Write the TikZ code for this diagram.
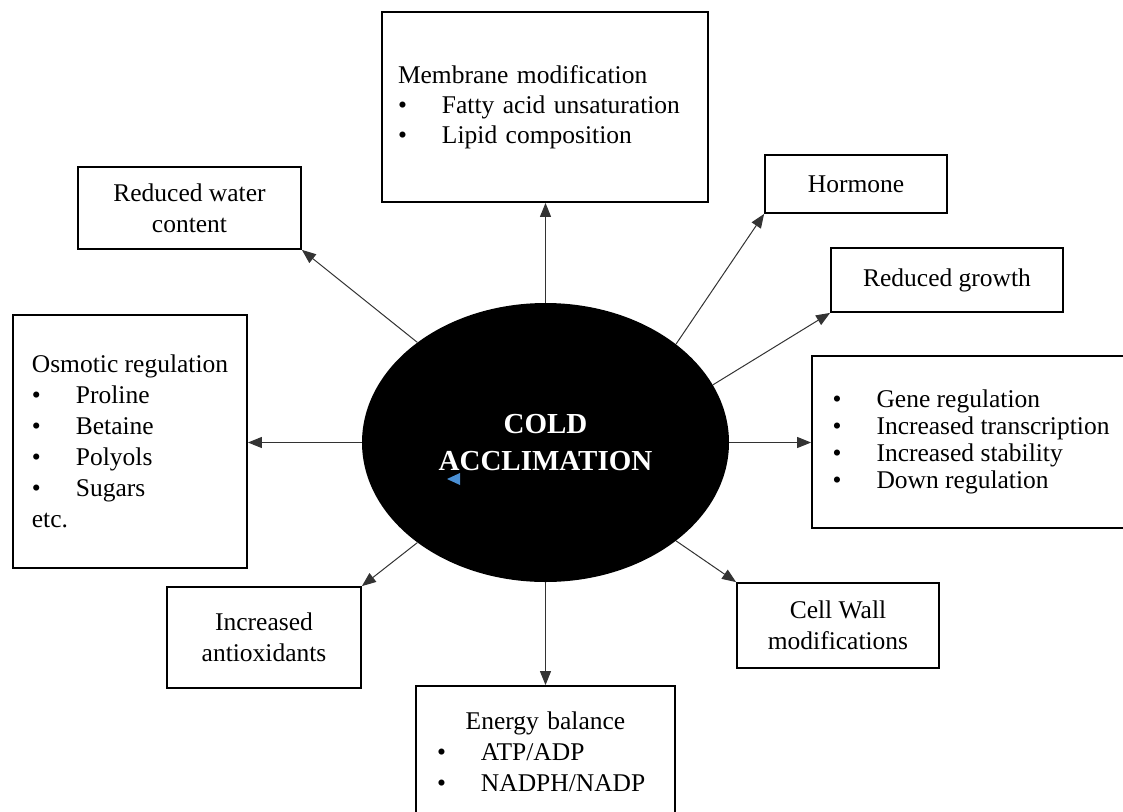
\documentclass[tikz,border=0pt]{standalone}
\usepackage{fontspec}
\setmainfont{Liberation Serif}
\usetikzlibrary{arrows.meta, shapes.geometric}
\definecolor{cursorblue}{HTML}{4A8FD4}
\newcommand{\itm}[1]{\makebox[44pt][l]{\textbullet}#1}

\begin{document}
\begin{tikzpicture}[
  x=1pt, y=-1pt,
  font=\fontsize{25.5}{31}\selectfont, >={Triangle[length=14pt, width=11pt]},
  box/.style={draw, line width=1.8pt, inner sep=0pt, align=center},
  lst/.style={box, align=left},
  lnk/.style={->, line width=1pt, draw=black!80}
]
\useasboundingbox (0,0) rectangle (1123,811);
\clip (0,0) rectangle (1123,811);

\node[ellipse, fill=black, text=white, inner sep=0pt, align=center,
      minimum width=367pt, minimum height=279pt,
      font=\fontsize{29}{37}\selectfont\bfseries] (cold) at (545.5,442.5) {COLD\\ACCLIMATION};

\node[lst, minimum width=326pt, minimum height=190pt, text width=294pt,
      font=\fontsize{25.5}{30}\selectfont] (mem) at (545,107)
  {Membrane modification\\ \itm{Fatty acid unsaturation}\\ \itm{Lipid composition}};
\node[box, minimum width=223pt, minimum height=82pt] (wat) at (189.5,208) {Reduced water\\content};
\node[box, minimum width=182pt, minimum height=58pt] (horm) at (856,184) {Hormone};
\node[box, minimum width=232pt, minimum height=64pt] (grow) at (947,280) {Reduced growth};
\node[lst, minimum width=234pt, minimum height=253pt] (osm) at (130,441.5)
  {Osmotic regulation\\ \itm{Proline}\\ \itm{Betaine}\\ \itm{Polyols}\\ \itm{Sugars}\\ etc.};
\node[lst, minimum width=318pt, minimum height=172pt,
      font=\fontsize{25.5}{27}\selectfont] (gene) at (971,442)
  {\itm{Gene regulation}\\ \itm{Increased transcription}\\ \itm{Increased stability}\\ \itm{Down regulation}};
\node[box, minimum width=194pt, minimum height=101pt] (anti) at (264,637.5) {Increased\\antioxidants};
\node[box, minimum width=202pt, minimum height=85pt] (wall) at (838,625.5) {Cell Wall\\modifications};
\node[lst, minimum width=259pt, minimum height=131pt, text width=217pt] (en) at (545.5,751.5)
  {\makebox[217pt]{Energy balance}\\ \itm{ATP/ADP}\\ \itm{NADPH/NADP}};

\draw[lnk] (cold.north) -- (cold.north |- mem.south);
\draw[lnk] (cold.142) -- (wat.south east);
\draw[lnk] (cold.37) -- (horm.south west);
\draw[lnk] (cold.19) -- (grow.south west);
\draw[lnk] (cold.east) -- (cold.east -| gene.west);
\draw[lnk] (cold.west) -- (cold.west -| osm.east);
\draw[lnk] (cold.-37) -- (wall.north west);
\draw[lnk] (cold.218) -- (anti.north east);
\draw[lnk] (cold.south) -- (cold.south |- en.north);

% small marker left in the ellipse
\fill[cursorblue] (447,479) -- (460,473) -- (460,485) -- cycle;
\end{tikzpicture}
\end{document}
